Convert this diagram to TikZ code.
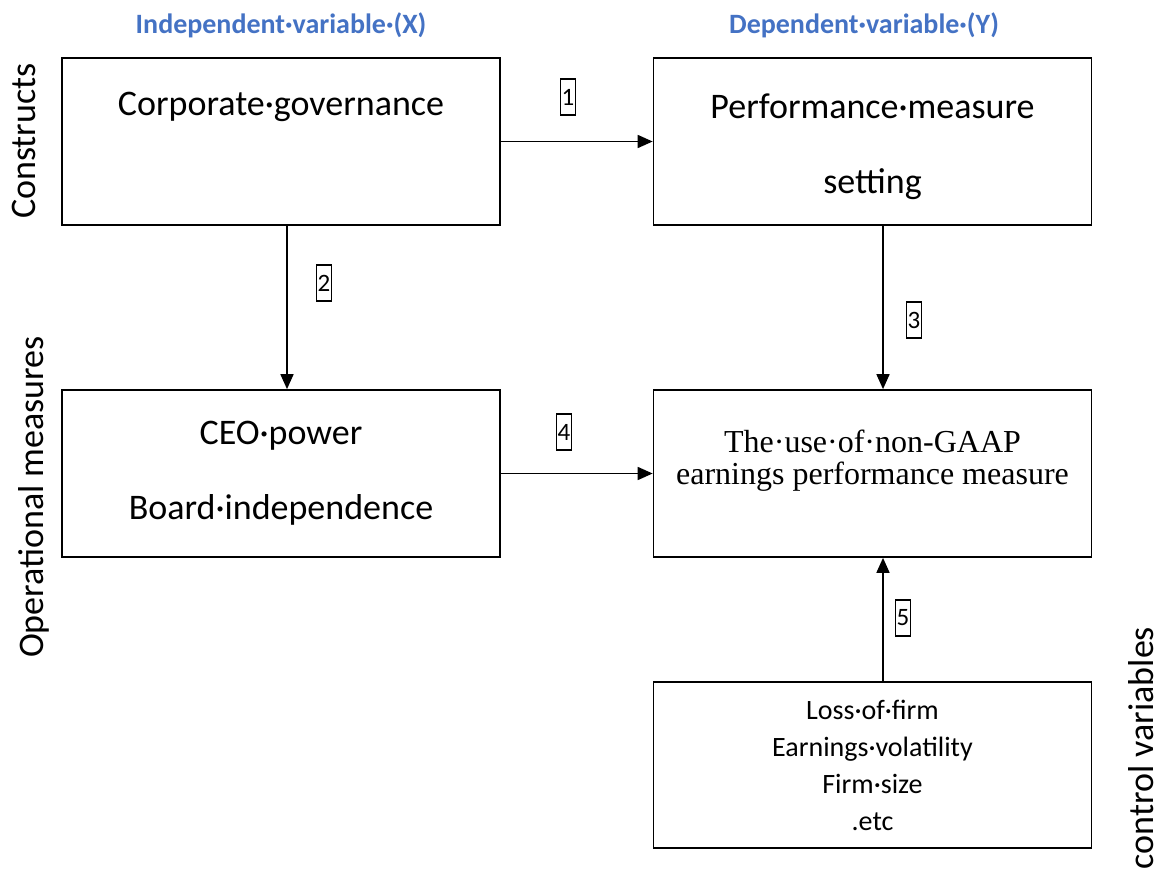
\documentclass[tikz,border=0pt]{standalone}
\usepackage{fontspec}
\setmainfont{Carlito}
\newfontfamily\serifbody{Liberation Serif}
\usepackage{tikz}
\usetikzlibrary{arrows.meta}
\definecolor{headblue}{HTML}{4472C4}

\begin{document}
\begin{tikzpicture}[x=1pt,y=-1pt,
  box/.style={draw,line width=1.7pt,minimum width=438pt,minimum height=167pt,align=center,inner sep=0pt},
  big/.style={font=\fontsize{36}{75}\selectfont},
  arr/.style={line width=1.7pt,-{Triangle[length=15pt,width=13pt]}},
  num/.style={draw,line width=1.5pt,inner xsep=1pt,inner ysep=0pt,minimum height=36pt,font=\fontsize{25}{30}\selectfont},
  head/.style={text=headblue,font=\fontsize{28}{34}\selectfont\bfseries},
  side/.style={rotate=90,anchor=base,font=\fontsize{36}{43}\selectfont}]
\useasboundingbox (0,0) rectangle (1161,882);
% headings
\node[head] (headx) at (281,25) {Independent·variable·(X)};
\node[head] (heady) at (864,25) {Dependent·variable·(Y)};
\node[side] (constr) at (35,141) {Constructs};
\node[side] (oper) at (43,497) {Operational measures};
\node[side] (ctrl) at (1153,748) {control variables};
% boxes
\node[box,big] (gov) at (281,141.5) {Corporate·governance\\ \mbox{}};
\node[box,big] (perf) at (872.5,141.5) {\rule{0pt}{36pt}Performance·measure\\setting};
\node[box,big] (ceo) at (281,473.5) {CEO·power\\Board·independence};
\node[box,font=\serifbody\fontsize{32}{32}\selectfont] (gaap) at (872.5,473.5)
  {The·use·of·non-GAAP\\earnings performance measure\\ \mbox{}};
\node[box,minimum height=166pt,font=\fontsize{28}{37}\selectfont] (ctrlbox) at (872.5,765)
  {Loss·of·firm\\Earnings·volatility\\Firm·size\\.etc};
% links
\draw[arr] (gov.east) -- (perf.west);
\draw[arr] ([xshift=6pt]gov.south) -- ([xshift=6pt]ceo.north);
\draw[arr] ([xshift=10.5pt]perf.south) -- ([xshift=10.5pt]gaap.north);
\draw[arr] (ceo.east) -- (gaap.west);
\draw[arr] ([xshift=10.5pt]ctrlbox.north) -- ([xshift=10.5pt]gaap.south);
% numbers
\node[num] (n1) at (568,97) {1};
\node[num] (n2) at (324,283) {2};
\node[num] (n3) at (914,320) {3};
\node[num] (n4) at (564,432) {4};
\node[num] (n5) at (903,618) {5};
\end{tikzpicture}
\end{document}
